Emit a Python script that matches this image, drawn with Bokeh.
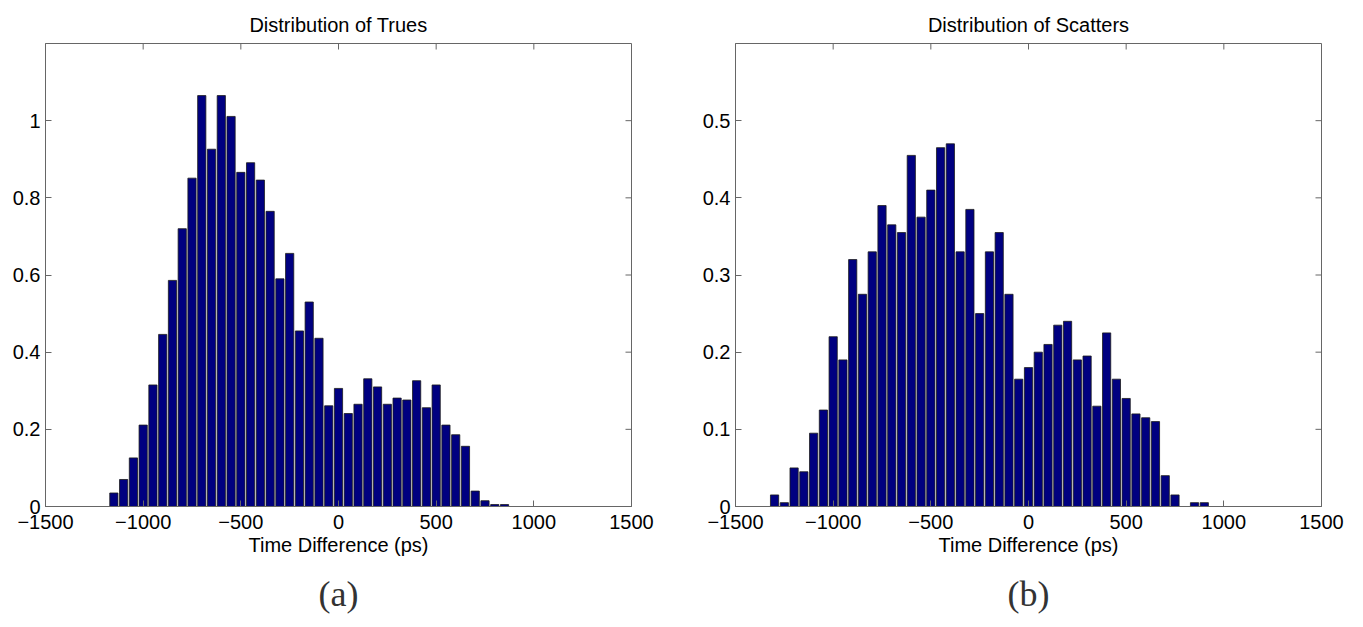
from bokeh.plotting import figure
from bokeh.models import Range1d, FixedTicker, Title
from bokeh.layouts import row
from bokeh.embed import file_html
from bokeh.resources import INLINE

# ---- data ----
trues_centers = list(range(-1150, 851, 50))
trues_values = [0.035, 0.070, 0.126, 0.211, 0.315, 0.446, 0.586, 0.720, 0.851, 1.065,
                0.926, 1.065, 1.011, 0.866, 0.891, 0.846, 0.765, 0.590, 0.656, 0.455,
                0.530, 0.436, 0.261, 0.306, 0.241, 0.265, 0.331, 0.310, 0.265, 0.281,
                0.276, 0.326, 0.256, 0.315, 0.211, 0.186, 0.156, 0.040, 0.015, 0.005,
                0.005]

scatters_centers = list(range(-1300, 901, 50))
scatters_values = [0.015, 0.005, 0.050, 0.045, 0.095, 0.125, 0.220, 0.190, 0.320, 0.275,
                   0.330, 0.390, 0.365, 0.355, 0.455, 0.375, 0.410, 0.465, 0.470, 0.330,
                   0.385, 0.250, 0.330, 0.355, 0.275, 0.165, 0.180, 0.200, 0.210, 0.235,
                   0.240, 0.190, 0.195, 0.130, 0.225, 0.165, 0.140, 0.120, 0.115, 0.110,
                   0.040, 0.015, 0.0, 0.005, 0.005]

x_ticks = [-1500, -1000, -500, 0, 500, 1000, 1500]
trues_yticks = [0, 0.2, 0.4, 0.6, 0.8, 1.0]
trues_ylabels = ["0", "0.2", "0.4", "0.6", "0.8", "1"]
scatters_yticks = [0, 0.1, 0.2, 0.3, 0.4, 0.5]
scatters_ylabels = ["0", "0.1", "0.2", "0.3", "0.4", "0.5"]

FONT = "Liberation Sans"
AXC = "#666666"
XMIN, XMAX = -1500, 1500
FRAME_W, FRAME_H = 586, 463
TICK_PX = 6


def fmt(v):
    s = str(int(v)) if float(v).is_integer() else str(v)
    return s.replace("-", "\u2212")


def make(title, caption, centers, values, ymax, yticks, ylabels, width, border_left, border_right):
    p = figure(width=width, height=627, output_backend="svg", toolbar_location=None,
               x_range=Range1d(XMIN, XMAX), y_range=Range1d(0, ymax),
               min_border_left=border_left, min_border_right=border_right,
               min_border_top=43, min_border_bottom=121)
    p.grid.visible = False
    p.outline_line_color = AXC
    p.title.text = title
    p.title.align = "center"
    p.title.text_font = FONT
    p.title.text_font_size = "20px"
    p.title.text_font_style = "normal"
    p.title.text_color = "black"
    p.title.standoff = 16

    p.vbar(x=centers, top=values, width=42, bottom=0,
           fill_color="#000080", line_color="#1a1a1a", line_width=0.8)

    # inward ticks on the top and right edges (box style)
    dy = TICK_PX / FRAME_H * ymax
    dx = TICK_PX / FRAME_W * (XMAX - XMIN)
    p.segment(x0=x_ticks, x1=x_ticks, y0=[ymax] * len(x_ticks), y1=[ymax - dy] * len(x_ticks),
              line_color=AXC, line_width=1)
    p.segment(x0=[XMAX] * len(yticks), x1=[XMAX - dx] * len(yticks), y0=yticks, y1=yticks,
              line_color=AXC, line_width=1)

    for ax in p.xaxis:
        ax.ticker = FixedTicker(ticks=x_ticks)
        ax.major_label_overrides = {t: fmt(t) for t in x_ticks}
        ax.axis_label = "Time Difference (ps)"
        ax.axis_label_text_font = FONT
        ax.axis_label_text_font_size = "20px"
        ax.axis_label_text_font_style = "normal"
        ax.axis_label_text_color = "black"
        ax.axis_label_standoff = 2
        ax.major_label_standoff = 8
    for ax in p.yaxis:
        ax.ticker = FixedTicker(ticks=yticks)
        ax.major_label_overrides = {t: l for t, l in zip(yticks, ylabels)}
        ax.major_label_standoff = 5
    for ax in list(p.xaxis) + list(p.yaxis):
        ax.major_label_text_font = FONT
        ax.major_label_text_font_size = "20px"
        ax.major_label_text_color = "black"
        ax.major_tick_in = TICK_PX
        ax.major_tick_out = 0
        ax.minor_tick_line_color = None
        ax.axis_line_color = AXC
        ax.major_tick_line_color = AXC

    cap = Title(text=caption, align="center", text_font="Liberation Serif",
                text_font_size="36px", text_font_style="normal", text_color="#333333",
                standoff=26)
    p.add_layout(cap, "below")
    return p


p1 = make("Distribution of Trues", "(a)", trues_centers, trues_values, 1.2,
          trues_yticks, trues_ylabels, 690, 45, 59)
p2 = make("Distribution of Scatters", "(b)", scatters_centers, scatters_values, 0.6,
          scatters_yticks, scatters_ylabels, 661, 45, 30)

layout = row(p1, p2)
open("out.html", "w").write(file_html(layout, INLINE))
